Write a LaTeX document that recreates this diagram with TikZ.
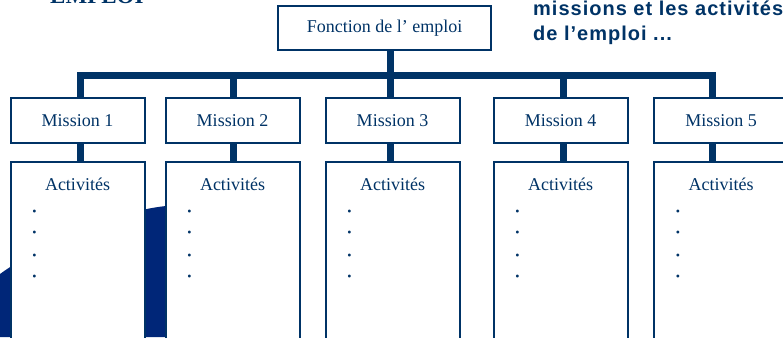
\documentclass[tikz,border=0pt]{standalone}
\usepackage{fontspec}
\setmainfont{Liberation Serif}
\newfontfamily\titlefont[LetterSpace=5]{Liberation Sans}
\usetikzlibrary{positioning, calc}
\definecolor{navy}{RGB}{0,51,102}
\definecolor{deepblue}{RGB}{0,38,120}
\tikzset{
  box/.style={rectangle, draw=navy, line width=2pt, fill=white, text=navy, font=\fontsize{18}{20}\selectfont, inner sep=0pt},
  missionbox/.style={box, minimum width=134pt, minimum height=45pt},
  actbox/.style={box, minimum width=134pt, minimum height=190pt},
  link/.style={draw=navy, line width=7pt},
}
\begin{document}
\begin{tikzpicture}[x=1pt, y=-1pt]
    \useasboundingbox (0,0) rectangle (783,337);
    \fill[deepblue] (0,274) .. controls (40,245) and (110,212) .. (166,206) -- (166,337) -- (0,337) -- cycle;
    \node[anchor=base west, inner sep=0pt, text=navy, font=\fontsize{23}{26}\selectfont\bfseries] (emploi) at (50,4) {EMPLOI};
    \node[anchor=north west, align=left, inner sep=0pt, text=navy, font=\titlefont\fontsize{20}{25}\selectfont\bfseries] (titre) at (533,0.5) {missions et les activités\\de l’emploi ...};
    \node[box, minimum width=213pt, minimum height=44pt] (fonction) at (384.5,28) {Fonction de l’ emploi};
    \foreach \i/\x in {1/77.5, 2/232.5, 3/392.5, 4/560.5, 5/721}{
        \node[missionbox] (m\i) at (\x,120.5) {Mission \i};
        \node[actbox, below=17pt of m\i] (act\i) {};
        \node[text=navy, font=\fontsize{18}{20}\selectfont] (lbl\i) at ([yshift=-23pt]act\i.north) {Activités};
        \foreach \j/\d in {1/52, 2/73, 3/96, 4/117}
            \node[inner sep=0pt, text=navy, font=\fontsize{12}{12}\selectfont] (b\i-\j) at ([xshift=25pt, yshift=-\d pt]act\i.north west) {\textbullet};
    }
    \coordinate (bus) at (390,75);
    \draw[link] (bus |- fonction.south) -- (bus);
    \foreach \i/\s in {1/2.5, 2/0.5, 3/-2.5, 4/2.5, 5/-9}{
        \coordinate (s\i) at ([xshift=\s pt]m\i.north);
        \draw[link] (s\i |- bus) -- (s\i);
        \draw[link] (s\i |- m\i.south) -- (s\i |- act\i.north);
    }
    \draw[link, line cap=rect] (s1 |- bus) -- (s5 |- bus);
\end{tikzpicture}
\end{document}
